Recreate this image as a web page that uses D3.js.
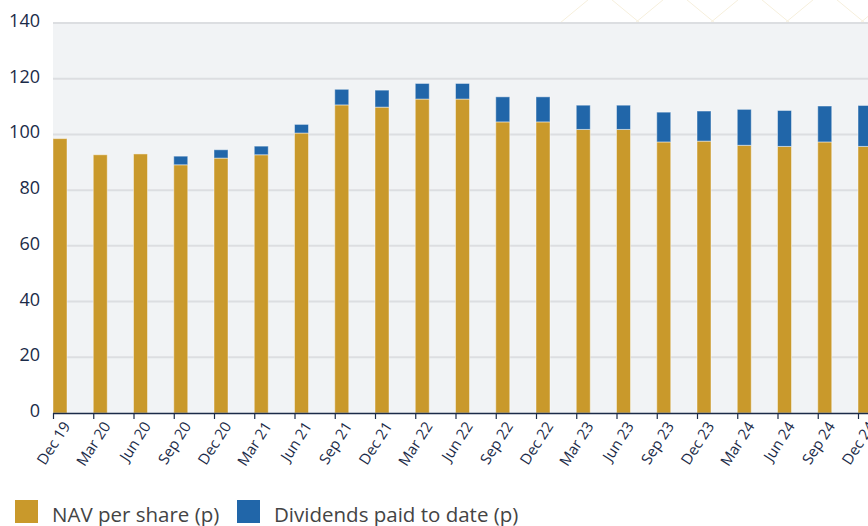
<!DOCTYPE html>
<html>
<head>
<meta charset="utf-8">
<script src="https://cdn.jsdelivr.net/npm/d3@7"></script>
<style>
  html, body { margin: 0; padding: 0; overflow: hidden; background: #fff; }
  text { font-family: "Open Sans", "Noto Sans", sans-serif; }
</style>
</head>
<body>
<svg id="chart" width="868" height="526"></svg>
<script>
// quarter end labels
let periods = ["Dec 19","Mar 20","Jun 20","Sep 20","Dec 20","Mar 21","Jun 21","Sep 21","Dec 21","Mar 22","Jun 22",
               "Sep 22","Dec 22","Mar 23","Jun 23","Sep 23","Dec 23","Mar 24","Jun 24","Sep 24","Dec 24"];
// NAV per share (p)
let nav = [98.5, 92.7, 93.0, 89.1, 91.5, 92.7, 100.5, 110.6, 109.8, 112.7, 112.7,
           104.5, 104.5, 101.8, 101.8, 97.3, 97.6, 96.1, 95.7, 97.3, 95.7];
// dividends paid to date (p), cumulative
let dividends = [0, 0, 0, 3.1, 3.0, 3.1, 3.1, 5.6, 6.1, 5.6, 5.6,
                 9.0, 9.0, 8.7, 8.7, 10.7, 10.8, 12.9, 12.9, 12.9, 14.7];
let yTicks = [0, 20, 40, 60, 80, 100, 120, 140];

let data = periods.map((p,i)=>({period:p, nav:nav[i], div:dividends[i]}));

let svg = d3.select('#chart');
let mLeft = 53, mTop = 23, mBottom = 413, step = 40.25;

let x = d3.scalePoint()
    .domain(periods)
    .range([mLeft, mLeft + step*(periods.length-1)]);
let y = d3.scaleLinear().domain([0,140]).range([mBottom, mTop]);
let barW = 14;

// decorative faint lines at top
let deco = svg.append('g').attr('stroke','#f6efdc').attr('stroke-width',1).attr('fill','none');
[560, 635, 710, 785, 860].forEach(d=>{
    deco.append('path').attr('d',`M${d},23 L${d+40},-10 M${d+40},-10 L${d+80},23`);
});

// plot background
svg.append('rect')
    .attr('x', mLeft).attr('y', mTop)
    .attr('width', 868-mLeft).attr('height', mBottom-mTop)
    .attr('fill','#f1f3f5');

// grid
svg.append('g').selectAll('line')
    .data(yTicks.filter(d=>d>0))
    .enter().append('line')
    .attr('x1', mLeft).attr('x2', 868)
    .attr('y1', d=>y(d)).attr('y2', d=>y(d))
    .attr('stroke','#dcdee1').attr('stroke-width',2);

// bars
let bars = svg.append('g');
bars.selectAll('.nav')
    .data(data).enter().append('rect')
    .attr('class','nav')
    .attr('x', d=>x(d.period))
    .attr('width', barW)
    .attr('y', d=>y(d.nav))
    .attr('height', d=>y(0)-y(d.nav))
    .attr('fill','#c9992b')
    .attr('stroke','rgba(255,255,255,0.45)').attr('stroke-width',1);
bars.selectAll('.div')
    .data(data.filter(d=>d.div>0)).enter().append('rect')
    .attr('class','div')
    .attr('x', d=>x(d.period))
    .attr('width', barW)
    .attr('y', d=>y(d.nav+d.div))
    .attr('height', d=>y(d.nav)-y(d.nav+d.div))
    .attr('fill','#2166a9')
    .attr('stroke','rgba(255,255,255,0.45)').attr('stroke-width',1);

// x axis
let xAxis = svg.append('g')
    .attr('transform',`translate(0,${mBottom})`)
    .call(d3.axisBottom(x).tickSize(6).tickSizeOuter(0));
xAxis.select('.domain').attr('stroke','#1b2b48').attr('stroke-width',1.5)
    .attr('d', `M${mLeft},0.5H900`);
xAxis.selectAll('.tick line').attr('stroke','#1b2b48').attr('stroke-width',1.2);
xAxis.selectAll('.tick text')
    .attr('fill','#1b2b48')
    .style('font-size','15px')
    .attr('text-anchor','end')
    .attr('dx','-0.1em').attr('dy','0.85em')
    .attr('transform','rotate(-57)');

// y labels
svg.append('g').selectAll('text')
    .data(yTicks).enter().append('text')
    .attr('x', 40)
    .attr('y', d=>y(d)+4)
    .attr('text-anchor','end')
    .attr('fill','#1b2b48')
    .style('font-size','18px')
    .text(d=>d);

// legend
let legend = [{label:'NAV per share (p)', color:'#c9992b', x:15},
              {label:'Dividends paid to date (p)', color:'#2166a9', x:237}];
let lg = svg.append('g').selectAll('g').data(legend).enter().append('g')
    .attr('transform', d=>`translate(${d.x},500)`);
lg.append('rect').attr('width',23).attr('height',23).attr('fill',d=>d.color);
lg.append('text').attr('x',37).attr('y',22)
    .attr('fill','#444').style('font-size','20.5px').text(d=>d.label);
</script>
</body>
</html>
